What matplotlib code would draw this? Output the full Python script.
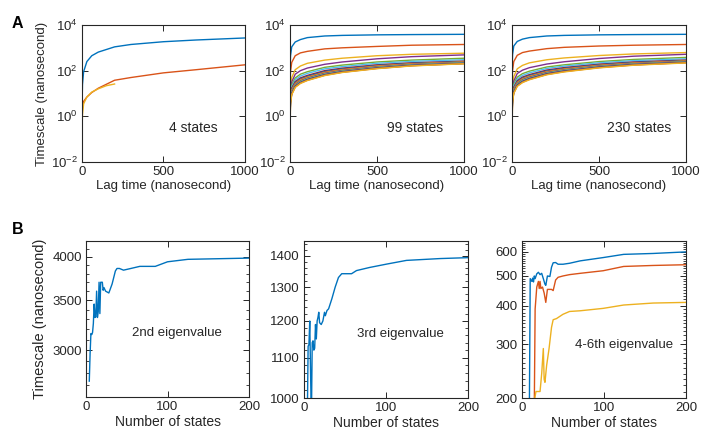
import numpy as np
import matplotlib
matplotlib.use("Agg")
from matplotlib import pyplot as plt
from matplotlib.ticker import NullLocator, NullFormatter, MultipleLocator

plt.rcParams['font.family'] = ['Liberation Sans', 'DejaVu Sans']
plt.rcParams['mathtext.fontset'] = 'custom'
plt.rcParams['mathtext.rm'] = 'Liberation Sans'
plt.rcParams['axes.unicode_minus'] = False

colors = ["#0072BD", "#D95319", "#EDB120", "#7E2F8E", "#77AC30", "#4DBEEE", "#A2142F"]

# panel A: implied timescales vs lag time
lag = [1, 3, 10, 30, 60, 100, 200, 300, 500, 700, 1000]
lag_short = [1, 3, 10, 30, 60, 100, 150, 200]

ts_4 = [
    [5, 25, 90, 250, 450, 650, 1100, 1400, 1850, 2200, 2700],
    [1.4, 2.5, 4.5, 7, 11, 17, 38, 50, 80, 110, 180],
]
ts_4_third = [0.35, 1.2, 3.5, 7, 11.5, 16, 22, 26]

ts_99 = [
    [150, 450, 1100, 1800, 2300, 2800, 3300, 3500, 3700, 3800, 3900],
    [30, 90, 230, 450, 600, 700, 900, 1000, 1150, 1300, 1400],
    [8, 20, 50, 110, 160, 210, 290, 350, 450, 520, 580],
    [5, 13, 32, 70, 100, 130, 190, 240, 330, 410, 490],
    [4, 10, 24, 48, 70, 90, 140, 175, 240, 290, 350],
    [3.5, 9, 20, 40, 58, 76, 120, 150, 210, 255, 300],
    [3, 7.5, 17, 33, 48, 62, 100, 128, 180, 220, 260],
    [2.8, 7, 15.5, 30, 44, 57, 92, 120, 170, 210, 250],
    [2.6, 6.5, 14.5, 28, 41, 53, 86, 113, 162, 202, 242],
    [2.4, 6, 13.5, 26, 38, 50, 81, 107, 155, 195, 235],
    [2.2, 5.6, 12.5, 24.5, 36, 47, 77, 102, 148, 188, 228],
    [2.0, 5.2, 11.8, 23, 34, 45, 73, 97, 142, 182, 222],
    [1.8, 4.8, 11, 22, 32, 43, 70, 93, 137, 176, 216],
    [1.6, 4.5, 10.4, 21, 30.5, 41, 67, 90, 132, 171, 210],
    [1.3, 4.2, 9.9, 20, 29.5, 39.5, 65, 87, 128, 167, 206],
    [1.0, 3.9, 9.4, 19.2, 28.5, 38, 63, 85, 125, 164, 203],
    [0.5, 3.5, 8.8, 18.5, 27.5, 37, 61, 83, 122, 161, 200],
]

ts_230 = [
    [160, 500, 1200, 1900, 2400, 2800, 3300, 3500, 3700, 3800, 3900],
    [35, 100, 250, 470, 620, 720, 920, 1050, 1200, 1300, 1400],
    [9, 22, 55, 120, 170, 220, 300, 360, 460, 540, 620],
    [6, 14, 35, 75, 105, 135, 195, 245, 340, 430, 520],
    [4.5, 11, 26, 52, 74, 95, 145, 180, 250, 310, 380],
    [4, 9.5, 22, 43, 62, 80, 125, 158, 222, 275, 330],
    [3.4, 8.2, 18.5, 36, 52, 67, 106, 136, 192, 240, 290],
    [3.1, 7.6, 17, 33, 48, 62, 98, 127, 182, 228, 278],
    [2.9, 7.1, 16, 31, 45, 58, 92, 120, 173, 218, 268],
    [2.7, 6.6, 15, 29, 42, 55, 87, 114, 166, 210, 260],
    [2.5, 6.2, 14, 27.5, 40, 52, 83, 109, 160, 203, 252],
    [2.3, 5.8, 13.2, 26, 38, 49, 79, 105, 154, 197, 245],
    [2.1, 5.4, 12.5, 24.5, 36, 47, 76, 101, 149, 191, 239],
    [1.8, 5.0, 11.8, 23.5, 34, 45, 73, 97, 144, 186, 233],
    [1.5, 4.7, 11.2, 22.5, 32.5, 43, 70, 94, 140, 181, 228],
    [1.1, 4.4, 10.6, 21.5, 31, 41.5, 68, 91, 136, 177, 223],
    [0.6, 4.0, 10, 20.5, 30, 40, 66, 88, 132, 173, 218],
]

# panel B: timescale vs number of states
states_2nd = [4, 5, 6, 7, 8, 9, 10, 11, 12, 13, 14, 15, 16, 17, 18, 20, 21, 22, 24, 28,
              32, 36, 38, 41, 46, 55, 66, 85, 100, 125, 150, 200]
ts_2nd = [2730, 2970, 3160, 3150, 3170, 3260, 3460, 3320, 3330, 3600, 3320, 3380, 3700, 3360,
          3700, 3700, 3610, 3640, 3600, 3580, 3680, 3830, 3860, 3860, 3840, 3860, 3885, 3885,
          3940, 3970, 3975, 3985]

states_3rd = [4, 5, 6, 7, 8, 9, 10, 11, 12, 13, 14, 15, 16, 17, 18, 19, 21, 23, 25, 26, 28,
              30, 34, 38, 42, 46, 58, 64, 80, 101, 125, 166, 200]
ts_3rd = [950, 1130, 1135, 1200, 1060, 950, 1140, 1145, 1120, 1125, 1190, 1150, 1200, 1210,
          1225, 1195, 1190, 1200, 1225, 1215, 1230, 1235, 1265, 1300, 1330, 1342, 1342, 1352,
          1362, 1373, 1385, 1391, 1394]

states_4th = [9, 10, 12, 13, 14, 15, 16, 18, 20, 22, 24, 26, 28, 29, 31, 34, 36, 38, 41, 44,
              50, 58, 71, 99, 124, 160, 200]
ts_4th = [190, 490, 480, 492, 478, 500, 490, 508, 514, 505, 510, 490, 470, 466, 500, 498, 534,
          552, 553, 546, 546, 550, 560, 574, 588, 592, 599]

states_5th = [15, 16, 18, 20, 21, 22, 23, 25, 27, 29, 31, 36, 38, 41, 44, 50, 58, 71, 99, 124,
              160, 200]
ts_5th = [190, 390, 460, 480, 455, 480, 455, 460, 440, 410, 452, 452, 448, 485, 495, 500, 505,
          510, 520, 537, 541, 544]

states_6th = [15, 17, 22, 24, 26, 27, 28, 30, 33, 36, 38, 42, 50, 58, 71, 99, 124, 160, 200]
ts_6th = [195, 210, 210, 240, 290, 230, 225, 255, 290, 340, 360, 363, 375, 383, 385, 392, 402,
          408, 410]


def style(ax):
    ax.tick_params(which='both', direction='in', top=True, right=True, labelsize=9.5,
                   color='#262626', labelcolor='#262626', pad=3)
    ax.tick_params(which='major', length=4, width=0.7)
    ax.tick_params(which='minor', length=2, width=0.6)
    for s in ax.spines.values():
        s.set_color('#262626')
        s.set_linewidth(0.8)


fig = plt.figure(figsize=(7.08, 4.33), dpi=100)

top_pos = [[0.1158, 0.6259, 0.2302, 0.3164],
           [0.4096, 0.6259, 0.2458, 0.3164],
           [0.7232, 0.6259, 0.2458, 0.3164]]
bot_pos = [[0.1215, 0.0831, 0.2302, 0.3603],
           [0.4294, 0.0808, 0.2316, 0.3626],
           [0.7373, 0.0808, 0.2316, 0.3626]]

top_sets = [ts_4, ts_99, ts_230]
top_texts = ["4 states", "99 states", "230 states"]
top_tx = [0.685, 0.72, 0.73]

for i in range(3):
    ax = fig.add_axes(top_pos[i])
    for k, series in enumerate(top_sets[i]):
        ax.plot(lag, series, color=colors[k % 7], lw=1.0)
    if i == 0:
        ax.plot(lag_short, ts_4_third, color=colors[2], lw=1.0)
    ax.set_yscale('log')
    ax.set_xlim(0, 1000)
    ax.set_ylim(1e-2, 1e4)
    ax.set_xticks([0, 500, 1000])
    ax.set_yticks([1e-2, 1e0, 1e2, 1e4])
    ax.yaxis.set_minor_locator(NullLocator())
    ax.set_xlabel("Lag time (nanosecond)", fontsize=9.5, labelpad=1, color='#262626')
    if i == 0:
        ax.set_ylabel("Timescale (nanosecond)", fontsize=9.5, labelpad=2, color='#262626')
    ax.text(top_tx[i], 0.25, top_texts[i], transform=ax.transAxes, ha='center', va='center',
            fontsize=10, color='#262626')
    style(ax)

# 2nd eigenvalue
ax = fig.add_axes(bot_pos[0])
ax.plot(states_2nd, ts_2nd, color=colors[0], lw=1.0)
ax.set_yscale('log')
ax.set_xlim(0, 200)
ax.set_ylim(2600, 4200)
ax.set_yticks([3000, 3500, 4000])
ax.set_yticklabels(['3000', '3500', '4000'])
ax.yaxis.set_minor_locator(MultipleLocator(100))
ax.yaxis.set_minor_formatter(NullFormatter())
ax.set_ylabel("Timescale (nanosecond)", fontsize=10.5, labelpad=4, color='#262626')
ax.text(0.56, 0.41, "2nd eigenvalue", transform=ax.transAxes, ha='center', va='center',
        fontsize=9.5, color='#262626')

# 3rd eigenvalue
ax2 = fig.add_axes(bot_pos[1])
ax2.plot(states_3rd, ts_3rd, color=colors[0], lw=1.0)
ax2.set_yscale('log')
ax2.set_xlim(0, 200)
ax2.set_ylim(1000, 1450)
ax2.set_yticks([1000, 1100, 1200, 1300, 1400])
ax2.set_yticklabels(['1000', '1100', '1200', '1300', '1400'])
ax2.yaxis.set_minor_locator(MultipleLocator(20))
ax2.yaxis.set_minor_formatter(NullFormatter())
ax2.text(0.59, 0.41, "3rd eigenvalue", transform=ax2.transAxes, ha='center', va='center',
         fontsize=9.5, color='#262626')

# 4-6th eigenvalues
ax3 = fig.add_axes(bot_pos[2])
ax3.plot(states_4th, ts_4th, color=colors[0], lw=1.0)
ax3.plot(states_5th, ts_5th, color=colors[1], lw=1.0)
ax3.plot(states_6th, ts_6th, color=colors[2], lw=1.0)
ax3.set_yscale('log')
ax3.set_xlim(0, 200)
ax3.set_ylim(200, 650)
ax3.set_yticks([200, 300, 400, 500, 600])
ax3.set_yticklabels(['200', '300', '400', '500', '600'])
ax3.yaxis.set_minor_locator(MultipleLocator(10))
ax3.yaxis.set_minor_formatter(NullFormatter())
ax3.text(0.62, 0.34, "4-6th eigenvalue", transform=ax3.transAxes, ha='center', va='center',
         fontsize=9.5, color='#262626')

for a in [ax, ax2, ax3]:
    a.set_xticks([0, 100, 200])
    a.set_xlabel("Number of states", fontsize=10, labelpad=1, color='#262626')
    style(a)

fig.text(17.5 / 708, 1 - 23 / 433, "A", fontsize=11.5, fontweight='bold', ha='center', va='center')
fig.text(17.5 / 708, 1 - 230 / 433, "B", fontsize=11.5, fontweight='bold', ha='center', va='center')

fig.savefig("out.png", dpi=100)
